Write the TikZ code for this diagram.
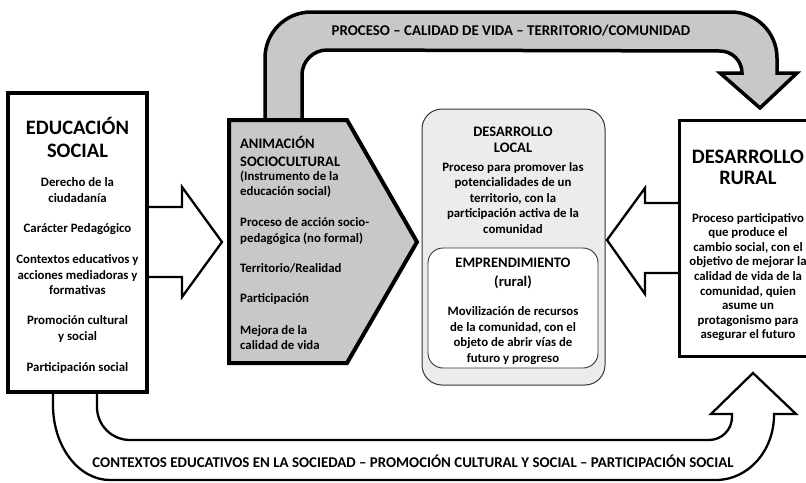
\documentclass[tikz,border=0pt]{standalone}
\usepackage{fontspec}
\setmainfont{Carlito}
\definecolor{gr}{RGB}{200,200,200}
\definecolor{lgr}{RGB}{236,236,236}
\tikzset{
  body/.style={font=\bfseries\fontsize{12.8}{15.5}\selectfont, align=center, inner sep=0pt},
  bodyl/.style={font=\bfseries\fontsize{12.8}{15.5}\selectfont, align=left, inner sep=0pt, anchor=west},
  bigttl/.style={font=\bfseries\fontsize{20.5}{23}\selectfont, align=center, inner sep=0pt},
  midttl/.style={font=\bfseries\fontsize{14.5}{17}\selectfont, align=center, inner sep=0pt},
  band/.style={font=\bfseries\fontsize{14.9}{16}\selectfont, inner sep=0pt},
  blockarrow/.style={fill=white, draw=black, line width=2.3pt, line join=miter},
  grayarrow/.style={fill=gr, draw=black, line width=3.5pt, line join=miter},
}
\begin{document}
\begin{tikzpicture}[x=1pt,y=-1pt]
\useasboundingbox (0,0) rectangle (806,482);

% top curved arrow
\filldraw[grayarrow] (265,121) -- (265,58) arc[start angle=180,end angle=270,radius=46]
  -- (731,12) arc[start angle=270,end angle=360,radius=46]
  -- (777,73) -- (797,73) -- (760,108) -- (720,73) -- (742,73)
  arc[start angle=0,end angle=-90,radius=22]
  -- (327,50) arc[start angle=-90,end angle=-180,radius=25] -- (302,121);
\node[band] (toptxt) at (511,31) {PROCESO – CALIDAD DE VIDA – TERRITORIO/COMUNIDAD};

% animacion sociocultural
\filldraw[fill=gr, draw=black, line width=4pt, line join=miter]
  (229,120) -- (347,120) -- (417,242) -- (347,363) -- (229,363) -- cycle;
\node[font=\bfseries\fontsize{14.5}{18}\selectfont, align=left, inner sep=0pt, anchor=west] (anim) at (240,151) {ANIMACIÓN\\SOCIOCULTURAL};
\node[bodyl] (anim1) at (240,184) {(Instrumento de la\\educación social)};
\node[bodyl] (anim2) at (240,231) {Proceso de acción socio-\\pedagógica (no formal)};
\node[bodyl] (anim3) at (240,268) {Territorio/Realidad};
\node[bodyl] (anim4) at (240,299) {Participación};
\node[bodyl] (anim5) at (240,337.5) {Mejora de la\\calidad de vida};

% left block arrow
\filldraw[blockarrow] (148,207) -- (182,207) -- (182,187) -- (222,242) -- (182,297) -- (182,277) -- (148,277);

% bottom curved arrow
\filldraw[blockarrow] (53,388) -- (53,405) arc[start angle=180,end angle=90,x radius=57,y radius=75]
  -- (716,480) arc[start angle=90,end angle=0,x radius=58,y radius=65]
  -- (774,414) -- (796,414) -- (753,373) -- (711,414) -- (732,414) -- (732,417)
  arc[start angle=0,end angle=90,radius=23]
  -- (130,440) arc[start angle=90,end angle=180,radius=33] -- (97,388);
\node[band] (bottxt) at (413,461) {CONTEXTOS EDUCATIVOS EN LA SOCIEDAD – PROMOCIÓN CULTURAL Y SOCIAL – PARTICIPACIÓN SOCIAL};

% educacion social box
\node[draw=black, fill=white, line width=3.2pt, minimum width=139pt, minimum height=299pt, inner sep=0pt] (edu) at (77.5,242.5) {};
\node[bigttl] (eduttl) at (77.5,137) {EDUCACIÓN\\SOCIAL};
\node[body] (edu1) at (77.5,190) {Derecho de la\\ciudadanía};
\node[body] (edu2) at (77.5,229) {Carácter Pedagógico};
\node[body] (edu3) at (77.5,275) {Contextos educativos y\\acciones mediadoras y\\formativas};
\node[body] (edu4) at (77.5,329) {Promoción cultural\\y social};
\node[body] (edu5) at (77.5,368) {Participación social};

% desarrollo local
\node[draw=black!80, fill=lgr, line width=1pt, rounded corners=20pt, minimum width=183pt, minimum height=276pt, inner sep=0pt] (local) at (513.5,247) {};
\node[midttl, font=\bfseries\fontsize{14.5}{16}\selectfont] (localttl) at (513,140) {DESARROLLO\\LOCAL};
\node[body] (local1) at (513,198) {Proceso para promover las\\potencialidades de un\\territorio, con la\\participación activa de la\\comunidad};
\node[draw=black!80, fill=white, line width=0.9pt, rounded corners=15pt, minimum width=170pt, minimum height=120pt, inner sep=0pt] (empr) at (513,308) {};
\node[midttl, font=\bfseries\fontsize{14.5}{19}\selectfont] (emprttl) at (513,273) {EMPRENDIMIENTO\\(rural)};
\node[body] (empr1) at (513,335.5) {Movilización de recursos\\de la comunidad, con el\\objeto de abrir vías de\\futuro y progreso};

% right block arrow
\filldraw[blockarrow] (678,203) -- (645,203) -- (645,188) -- (607,240) -- (645,294) -- (645,273) -- (678,273);

% desarrollo rural
\node[draw=black, fill=white, line width=3pt, minimum width=138pt, minimum height=236pt, inner sep=0pt] (rural) at (748,238) {};
\node[bigttl, font=\bfseries\fontsize{20.5}{21.5}\selectfont] (ruralttl) at (748,167.5) {DESARROLLO\\RURAL};
\node[body, font=\bfseries\fontsize{12.8}{14.6}\selectfont] (rural1) at (748,277) {Proceso participativo\\que produce el\\cambio social, con el\\objetivo de mejorar la\\calidad de vida de la\\comunidad, quien\\asume un\\protagonismo para\\asegurar el futuro};
\end{tikzpicture}
\end{document}
